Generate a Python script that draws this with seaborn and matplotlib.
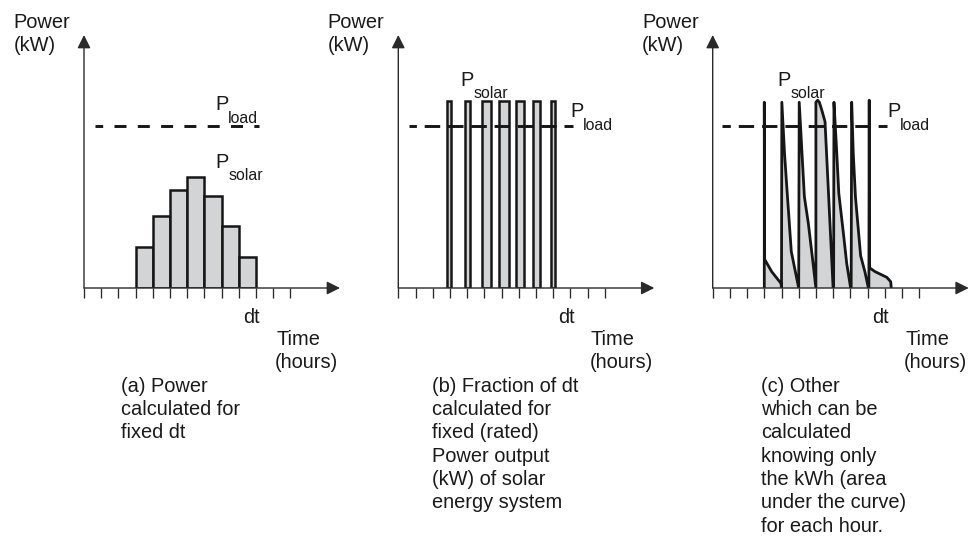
import matplotlib
matplotlib.use("Agg")
import matplotlib.pyplot as plt
import seaborn as sns

# ---------------- data ----------------
hour_ticks = list(range(13))
p_load = 8.0          # kW, load level
p_rated = 9.25        # kW, rated solar output (panel b)

# (a) hourly solar power (one bar per hour)
a_hours = [3.5, 4.5, 5.5, 6.5, 7.5, 8.5, 9.5]
a_power = [2.01, 3.55, 4.86, 5.52, 4.54, 3.05, 1.52]

# (b) fraction of each hour at rated power
b_start = [2.85, 3.85, 4.85, 5.85, 6.85, 7.85, 8.85]
b_fraction = [0.24, 0.32, 0.54, 0.56, 0.44, 0.40, 0.24]

# (c) other profile (continuous curve)
c_time = [3.0, 3.0, 3.02, 3.43, 3.97, 4.0,
          4.02, 4.18, 4.32, 4.57, 5.0,
          5.03, 5.33, 5.56, 5.79, 6.0,
          6.0, 6.1, 6.2, 6.34, 6.53, 7.0,
          7.03, 7.05, 7.2, 7.33, 7.6, 7.79, 8.02,
          8.05, 8.08, 8.17, 8.3, 8.6, 8.85, 9.05,
          9.08, 9.1, 9.12, 9.44, 10.12, 10.35, 10.38]
c_power = [0.0, 9.2, 1.42, 0.81, 0.23, 0.0,
           9.2, 6.6, 4.85, 1.8, 0.0,
           9.2, 4.52, 3.2, 1.55, 0.0,
           9.2, 9.3, 9.2, 8.82, 8.24, 0.0,
           0.0, 9.2, 6.9, 4.7, 2.7, 1.22, 0.0,
           0.0, 9.2, 6.7, 4.5, 1.6, 0.8, 0.0,
           0.0, 9.3, 1.0, 0.81, 0.53, 0.31, 0.0]

captions = [
    ["(a) Power", "calculated for", "fixed dt"],
    ["(b) Fraction of dt", "calculated for", "fixed (rated)", "Power output",
     "(kW) of solar", "energy system"],
    ["(c) Other", "which can be", "calculated", "knowing only",
     "the kWh (area", "under the curve)", "for each hour."],
]

# ---------------- style ----------------
sns.set_style("white")
plt.rcParams["font.family"] = ["Liberation Sans", "DejaVu Sans"]

W, H = 969, 547
PXH = 17.2      # pixels per hour
PXK = 20.19     # pixels per kW
XMAX, YMAX = 15, 12.6
BASE_Y = 288
origins = [84, 398.3, 712.7]
FILL = "#d3d4d6"
EDGE = "#161616"
AXC = "#2a2a2a"
TXT = "#1a1a1a"
FS = 14.4
FS_SUB = 11.4

fig = plt.figure(figsize=(W / 100, H / 100), dpi=100)
fig.patch.set_facecolor("white")


def ftext(x, y, s, size=FS, ha="left"):
    fig.text(x / W, 1 - y / H, s, fontsize=size, ha=ha, va="baseline", color=TXT)


def plabel(x, y, sub):
    ftext(x, y, "P")
    ftext(x + 13.3, y + 12.5, sub, size=FS_SUB)


def dash(on_px, off_px, off0_px, lw):
    k = 0.72 / lw
    return (off0_px * k, (on_px * k, off_px * k))


axes = []
for ox in origins:
    ax = fig.add_axes([ox / W, (H - BASE_Y) / H, XMAX * PXH / W, YMAX * PXK / H])
    axes.append(ax)

# (a) bars
ax = axes[0]
sns.barplot(x=a_hours, y=a_power, native_scale=True, width=1.0, color=FILL,
            saturation=1, edgecolor=EDGE, linewidth=1.8, errorbar=None, ax=ax)

# (b) bars at rated power
ax = axes[1]
ax.bar(b_start, [p_rated] * len(b_start), width=b_fraction, align="edge",
       color=FILL, edgecolor=EDGE, linewidth=1.8, zorder=2)

# (c) curve
ax = axes[2]
ax.fill(c_time, c_power, color=FILL, lw=0, zorder=1)
sns.lineplot(x=c_time, y=c_power, sort=False, estimator=None, color=EDGE,
             linewidth=2.0, ax=ax, zorder=2)

# load lines
LW_D = 2.1
load_specs = [
    ((95 - 84) / PXH, (259 - 84) / PXH, dash(12, 11.3, 4.3, LW_D)),
    ((409.3 - 398.3) / PXH, (573.3 - 398.3) / PXH, dash(15.5, 7.8, 8.1, LW_D)),
    ((721.7 - 712.7) / PXH, (886.7 - 712.7) / PXH, dash(15.3, 8.0, 7.0, LW_D)),
]
for ax, (x0, x1, ls) in zip(axes, load_specs):
    ax.plot([x0, x1], [p_load, p_load], color=EDGE, lw=LW_D, linestyle=ls,
            zorder=5, solid_capstyle="butt", dash_capstyle="butt")

# axes styling, arrows, text
for i, (ax, ox) in enumerate(zip(axes, origins)):
    ax.set_xlim(0, XMAX)
    ax.set_ylim(0, YMAX)
    for s in ax.spines.values():
        s.set_visible(False)
    ax.set_xticks(hour_ticks)
    ax.set_xticklabels([])
    ax.set_yticks([])
    ax.set_xlabel("")
    ax.set_ylabel("")
    ax.tick_params(axis="x", bottom=True, length=7.2, width=0.95, color=AXC,
                   direction="out")
    ax.patch.set_alpha(0)
    ap = dict(arrowstyle="-|>,head_length=0.8,head_width=0.4", color=AXC,
              lw=1.0, shrinkA=0, shrinkB=0, mutation_scale=10)
    ax.annotate("", xy=(256 / PXH, 0), xytext=(0, 0), arrowprops=ap,
                annotation_clip=False)
    ax.annotate("", xy=(0, 253 / PXK), xytext=(0, 0), arrowprops=ap,
                annotation_clip=False)

    ftext(ox - 70.7, 28, "Power")
    ftext(ox - 70.7, 51, "(kW)")
    ftext(ox + 167.7, 322.7, "dt", ha="center")
    ftext(ox + 192.5, 345, "Time")
    ftext(ox + 191, 368, "(hours)")

cap_left = [120.7, 432.5, 760.7]
for left, lines in zip(cap_left, captions):
    for k, line in enumerate(lines):
        ftext(left, 391.7 + 23.3 * k, line)

plabel(215, 110, "load")
plabel(215, 168, "solar")
plabel(460, 86, "solar")
plabel(570, 117, "load")
plabel(777, 86, "solar")
plabel(887, 117, "load")

fig.savefig("out.png", dpi=100, facecolor="white")
